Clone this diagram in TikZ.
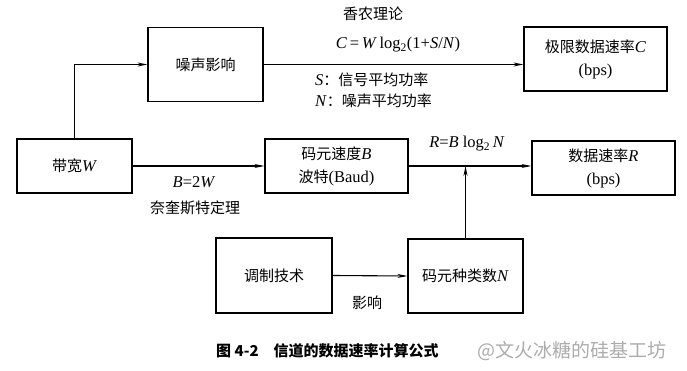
\documentclass[tikz,border=0pt]{standalone}
\usepackage{fontspec}
\setmainfont[Scale=1.1]{Liberation Serif}
\newfontfamily\cjk{Noto Sans CJK SC}
\newcommand{\zh}[1]{{\cjk #1}}
\newcommand{\vi}[1]{\textit{#1}}
\usetikzlibrary{arrows.meta}
\tikzset{
  box/.style={draw, line width=1.2pt, inner sep=0pt, align=center},
  lbl/.style={inner sep=0pt, align=center},
  flow/.style={line width=1.1pt, -{Stealth[length=10pt,width=4pt]}},
}
\begin{document}
\begin{tikzpicture}[x=1pt, y=-1pt, font=\fontsize{15}{23}\selectfont]
  \useasboundingbox (0,0) rectangle (687,371);
  % boxes
  \node[box, minimum width=115, minimum height=74] (noise) at (205.5,64.5) {\zh{噪声影响}};
  \node[box, minimum width=143, minimum height=64] (limit) at (595.5,59) {\zh{极限数据速率}\vi{C}\\(bps)};
  \node[box, minimum width=115, minimum height=54] (bw) at (74.5,166) {\zh{带宽}\vi{W}};
  \node[box, minimum width=143, minimum height=54] (baud) at (336.5,166) {\zh{码元速度}\vi{B}\\\zh{波特}(Baud)};
  \node[box, minimum width=143, minimum height=54] (rate) at (603.5,168) {\zh{数据速率}\vi{R}\\(bps)};
  \node[box, minimum width=116, minimum height=75] (mod) at (274,275.5) {\zh{调制技术}};
  \node[box, minimum width=115, minimum height=74] (sym) at (465.5,276) {\zh{码元种类数}\vi{N}};
  % connectors
  \draw[flow] (bw.north) |- (noise.west);
  \draw[flow] (noise.east) -- (noise.east -| limit.west);
  \draw[flow] (bw.east) -- (baud.west);
  \draw[flow] (baud.east) -- (baud.east -| rate.west);
  \coordinate (join) at (sym.north |- baud.east);
  \draw[flow] (sym.north) -- (join);
  \draw[flow] (mod.east) -- (sym.west);
  % labels
  \node[lbl] (shannon) at (373,14) {\zh{香农理论}};
  \node[lbl] (cform) at (398,45) {\vi{C}\,=\,\vi{W}\,log\textsubscript{2}(1+\vi{S}/\vi{N})};
  \node[lbl, anchor=west] (sdef) at (315,80) {\vi{S}\zh{：信号平均功率}};
  \node[lbl, anchor=west] (ndef) at (315,101) {\vi{N}\zh{：噪声平均功率}};
  \node[lbl] (rform) at (467,144) {\vi{R}=\vi{B} log\textsubscript{2}\,\vi{N}};
  \node[lbl] (nyform) at (194,182) {\vi{B}=2\vi{W}};
  \node[lbl] (nyq) at (195,208) {\zh{奈奎斯特定理}};
  \node[lbl] (infl) at (367,303) {\zh{影响}};
  % caption
  \node[lbl, anchor=west] (cap) at (216,351) {\zh{\bfseries 图 4-2\hspace{1em}信道的数据速率计算公式}};
  \node[lbl, anchor=west, text=gray!65, font=\fontsize{19}{23}\selectfont] (mark) at (477,351) {\zh{@文火冰糖的硅基工坊}};
\end{tikzpicture}
\end{document}
